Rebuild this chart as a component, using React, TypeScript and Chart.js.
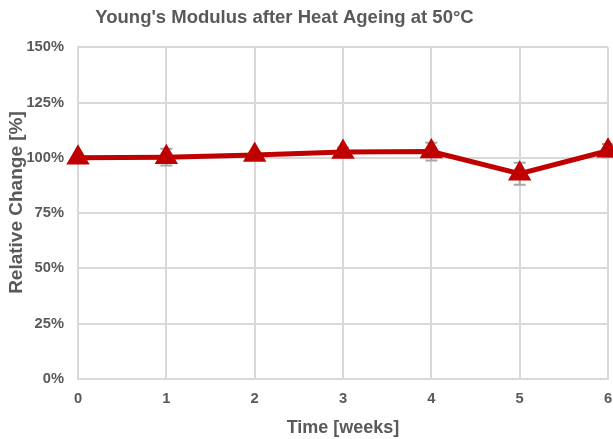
import React, { useEffect, useRef } from "react";
import { Chart, registerables } from "chart.js";

Chart.register(...registerables);

const weeks = [0, 1, 2, 3, 4, 5, 6];
const relativeChange = [100, 100.3, 101.3, 102.6, 102.8, 92.8, 103.2];
const errors = [0.5, 3.8, 1.5, 2, 4, 5, 3];
const yTicks = [0, 25, 50, 75, 100, 125, 150];

const TEXT = "#595959";
const GRID = "#d9d9d9";
const RED = "#c00000";
const ERR = "#a6a6a6";
const FONT = "Liberation Sans, Arial, sans-serif";

const errorBarPlugin = {
  id: "errorBars",
  afterLayout(chart: any) {
    if (chart.titleBlock) {
      chart.titleBlock.left = 0;
      chart.titleBlock.right = 569;
    }
  },
  beforeDatasetsDraw(chart: any) {
    const ctx = chart.ctx;
    const xs = chart.scales.x;
    const ys = chart.scales.y;
    ctx.save();
    ctx.strokeStyle = ERR;
    ctx.lineWidth = 2;
    weeks.forEach((w, i) => {
      const x = xs.getPixelForValue(w);
      const yTop = ys.getPixelForValue(relativeChange[i] + errors[i]);
      const yBot = ys.getPixelForValue(relativeChange[i] - errors[i]);
      ctx.beginPath();
      ctx.moveTo(x, yTop);
      ctx.lineTo(x, yBot);
      ctx.moveTo(x - 6, yTop);
      ctx.lineTo(x + 6, yTop);
      ctx.moveTo(x - 6, yBot);
      ctx.lineTo(x + 6, yBot);
      ctx.stroke();
    });
    ctx.restore();
  },
};

export default function App() {
  const ref = useRef<HTMLCanvasElement | null>(null);
  useEffect(() => {
    if (!ref.current) return;
    const chart = new Chart(ref.current, {
      type: "line",
      data: {
        datasets: [
          {
            data: weeks.map((w, i) => ({ x: w, y: relativeChange[i] })),
            borderColor: RED,
            backgroundColor: RED,
            borderWidth: 5,
            pointStyle: "triangle",
            pointRadius: 10.5,
            pointBorderWidth: 3,
            tension: 0,
            clip: false as any,
          },
        ],
      },
      options: {
        animation: false,
        responsive: false,
        maintainAspectRatio: false,
        layout: { padding: 0, autoPadding: false },
        plugins: {
          legend: { display: false },
          tooltip: { enabled: false },
          title: {
            display: true,
            text: "Young's Modulus after Heat Ageing at 50°C",
            color: TEXT,
            font: { family: FONT, size: 18.5, weight: "bold" },
            padding: { top: 7, bottom: 18 },
          },
        },
        scales: {
          x: {
            type: "linear",
            min: 0,
            max: 6,
            ticks: {
              stepSize: 1,
              color: TEXT,
              font: { family: FONT, size: 14.7, weight: "bold" },
              padding: 11,
            },
            grid: { color: GRID, lineWidth: 2, drawTicks: false },
            border: { color: GRID, width: 2 },
            title: {
              display: true,
              text: "Time [weeks]",
              color: TEXT,
              font: { family: FONT, size: 18, weight: "bold" },
              padding: { top: 4, bottom: 0 },
            },
            afterFit(scale: any) {
              scale.height = 60;
              scale.paddingRight = 5;
            },
          },
          y: {
            min: 0,
            max: 150,
            afterBuildTicks(scale: any) {
              scale.ticks = yTicks.map((v) => ({ value: v }));
            },
            ticks: {
              color: TEXT,
              font: { family: FONT, size: 14.7, weight: "bold" },
              padding: 14,
              callback: (v: any) => v + "%",
            },
            grid: { color: GRID, lineWidth: 2, drawTicks: false },
            border: { color: GRID, width: 2 },
            title: {
              display: true,
              text: "    Relative Change [%]",
              color: TEXT,
              font: { family: FONT, size: 19, weight: "bold" },
              padding: { top: 5, bottom: 0 },
            },
            afterFit(scale: any) {
              scale.width = 78;
            },
          },
        },
      },
      plugins: [errorBarPlugin],
    });
    return () => chart.destroy();
  }, []);
  return (
    <div style={{ position: "absolute", left: 0, top: 0, width: 613, height: 439 }}>
      <canvas ref={ref} width={613} height={439} style={{ width: 613, height: 439 }} />
    </div>
  );
}
